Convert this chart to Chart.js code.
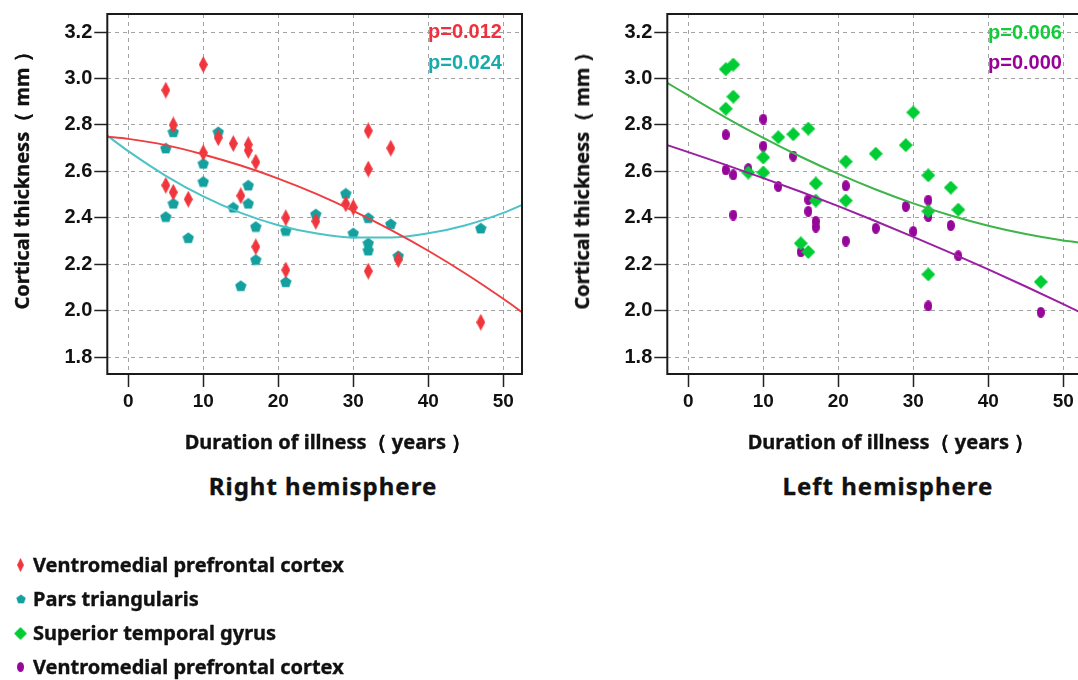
<!DOCTYPE html>
<html lang="en">
<head>
    <meta charset="UTF-8">
    <title>Cortical thickness vs duration of illness</title>
    <script src="https://cdn.jsdelivr.net/npm/chart.js"></script>
    <style>
        body {
            margin: 0;
            width: 1078px;
            height: 680px;
            overflow: hidden;
            position: relative;
            background: #fff;
            font-family: "Noto Sans", sans-serif;
            color: #111;
        }
        canvas.plot { position: absolute; top: 0; }
        #rightHemiChart { left: 0; }
        #leftHemiChart { left: 560px; }
        .txt { position: absolute; white-space: nowrap; font-weight: bold; -webkit-text-stroke: 0.35px #111; }
        .ytitle { font-size: 20px; line-height: 24px; transform: translate(-50%, -50%) rotate(-90deg); }
        .xtitle { font-size: 20px; line-height: 24px; transform: translateX(-50%); }
        .hemi { font-size: 24px; line-height: 30px; letter-spacing: 1px; transform: translateX(-50%); }
        .pval { font-family: "Liberation Sans", Arial, sans-serif; font-size: 20px; line-height: 24px; text-align: right; -webkit-text-stroke: 0; }
        .legend-row { position: absolute; left: 0; height: 24px; width: 400px; }
        .legend-row canvas { position: absolute; }
        .legend-row span { position: absolute; left: 33px; top: 0; font-size: 20px; line-height: 24px; font-weight: bold; white-space: nowrap; -webkit-text-stroke: 0.35px #111; }
    </style>
</head>
<body>
    <canvas id="rightHemiChart" class="plot" width="530" height="464"></canvas>
    <canvas id="leftHemiChart" class="plot" width="530" height="464"></canvas>

    <!-- axis titles -->
    <div class="txt ytitle" style="left:22px; top:176px;">Cortical thickness（ mm ）</div>
    <div class="txt ytitle" style="left:582px; top:176px;">Cortical thickness（ mm ）</div>
    <div class="txt xtitle" style="left:328px; top:430px;">Duration of illness（ years ）</div>
    <div class="txt xtitle" style="left:891px; top:430px;">Duration of illness（ years ）</div>
    <div class="txt hemi" style="left:323px; top:471px;">Right hemisphere</div>
    <div class="txt hemi" style="left:888px; top:471px;">Left hemisphere</div>

    <!-- p values -->
    <div class="txt pval" style="right:576px; top:19px; color:#f0303c;">p=0.012</div>
    <div class="txt pval" style="right:576px; top:50px; color:#17abab;">p=0.024</div>
    <div class="txt pval" style="right:16px; top:20px; color:#12cc3a;">p=0.006</div>
    <div class="txt pval" style="right:16px; top:50px; color:#990099;">p=0.000</div>

    <!-- legend -->
    <div class="legend-row" style="top:553px;"><canvas id="lg0"></canvas><span>Ventromedial prefrontal cortex</span></div>
    <div class="legend-row" style="top:587px;"><canvas id="lg1"></canvas><span>Pars triangularis</span></div>
    <div class="legend-row" style="top:621px;"><canvas id="lg2"></canvas><span>Superior temporal gyrus</span></div>
    <div class="legend-row" style="top:655px;"><canvas id="lg3"></canvas><span>Ventromedial prefrontal cortex</span></div>

    <script>
        // axis ticks
        const xTicks = [0, 10, 20, 30, 40, 50];
        const yTicks = [1.8, 2.0, 2.2, 2.4, 2.6, 2.8, 3.0, 3.2];

        // duration of illness (years), one entry per subject
        const duration = [5, 5, 6, 6, 8, 10, 10, 12, 14, 15, 16, 16, 17, 17, 21, 21, 25, 29, 30, 32, 32, 32, 35, 36, 47];

        // right hemisphere
        const rVmpfc = [2.95, 2.54, 2.80, 2.51, 2.48, 3.06, 2.68, 2.745, 2.72, 2.495, 2.715, 2.69, 2.64, 2.275, 2.40, 2.175, 2.385, 2.46, 2.445, 2.775, 2.61, 2.17, 2.70, 2.22, 1.95];
        const rPars = [2.70, 2.405, 2.77, 2.462, 2.314, 2.634, 2.556, 2.77, 2.445, 2.107, 2.54, 2.462, 2.362, 2.22, 2.345, 2.124, 2.416, 2.505, 2.334, 2.40, 2.291, 2.26, 2.374, 2.236, 2.355];

        // left hemisphere
        const lStg = [3.04, 2.87, 3.06, 2.922, 2.595, 2.66, 2.595, 2.747, 2.76, 2.29, 2.784, 2.253, 2.548, 2.474, 2.642, 2.474, 2.676, 2.713, 2.854, 2.583, 2.428, 2.156, 2.53, 2.435, 2.124];
        const lVmpfc = [2.758, 2.606, 2.585, 2.412, 2.612, 2.825, 2.709, 2.535, 2.666, 2.253, 2.478, 2.428, 2.385, 2.36, 2.538, 2.30, 2.355, 2.449, 2.341, 2.476, 2.405, 2.02, 2.367, 2.236, 1.993];

        // fit curves
        const fitX = [-3, 0, 5, 10, 15, 20, 25, 30, 35, 40, 45, 50, 53];
        const rVmpfcFit = [2.750, 2.740, 2.713, 2.673, 2.625, 2.569, 2.504, 2.430, 2.348, 2.258, 2.159, 2.051, 1.982];
        const rParsFit = [2.759, 2.687, 2.581, 2.492, 2.421, 2.368, 2.333, 2.315, 2.315, 2.333, 2.368, 2.421, 2.462];
        const lStgFit = [2.985, 2.927, 2.832, 2.744, 2.663, 2.589, 2.522, 2.462, 2.410, 2.366, 2.330, 2.302, 2.290];
        const lVmpfcFit = [2.715, 2.683, 2.628, 2.571, 2.512, 2.450, 2.385, 2.318, 2.249, 2.178, 2.104, 2.028, 1.981];

        const colors = {
            red: '#f0363c', redLine: '#ef3e42',
            teal: '#15a0a0', tealLine: '#4cc3c6',
            green: '#00cc33', greenLine: '#3db54a',
            purple: '#96069a', purpleLine: '#9a1fa3'
        };

        // marker shapes drawn onto small canvases
        function diamond(c, w, h, color) {
            c.width = w; c.height = h;
            const g = c.getContext('2d');
            g.fillStyle = color;
            g.beginPath();
            g.moveTo(w / 2, 0); g.lineTo(w, h / 2); g.lineTo(w / 2, h); g.lineTo(0, h / 2);
            g.closePath(); g.fill();
            return c;
        }
        function pentagon(c, size, color) {
            c.width = size; c.height = size;
            const g = c.getContext('2d');
            const r = size / 2;
            g.fillStyle = color;
            g.beginPath();
            for (let i = 0; i < 5; i++) {
                const a = -Math.PI / 2 + i * 2 * Math.PI / 5;
                const px = r + r * Math.cos(a), py = r + 0.5 + r * Math.sin(a);
                i ? g.lineTo(px, py) : g.moveTo(px, py);
            }
            g.closePath(); g.fill();
            return c;
        }
        function ellipse(c, w, h, color) {
            c.width = w; c.height = h;
            const g = c.getContext('2d');
            g.fillStyle = color;
            g.beginPath();
            g.ellipse(w / 2, h / 2, w / 2, h / 2, 0, 0, Math.PI * 2);
            g.fill();
            return c;
        }
        const mk = () => document.createElement('canvas');
        const redMarker = diamond(mk(), 9, 17, colors.red);
        const tealMarker = pentagon(mk(), 12, colors.teal);
        const greenMarker = diamond(mk(), 14, 14, colors.green);
        const purpleMarker = ellipse(mk(), 8, 11, colors.purple);

        function toPoints(xs, ys) {
            return xs.map((x, i) => ({ x: x, y: ys[i] }));
        }

        function scatterSet(ys, marker) {
            return {
                data: toPoints(duration, ys),
                pointStyle: marker,
                pointRadius: 6,
                showLine: false
            };
        }
        function fitSet(ys, color) {
            return {
                data: toPoints(fitX, ys),
                showLine: true,
                borderColor: color,
                borderWidth: 2,
                pointRadius: 0,
                cubicInterpolationMode: 'monotone',
                clip: 0
            };
        }

        // border round the plot area
        const framePlugin = {
            id: 'frame',
            afterDatasetsDraw(chart) {
                const a = chart.chartArea;
                const ctx = chart.ctx;
                ctx.save();
                ctx.strokeStyle = '#1a1a1a';
                ctx.lineWidth = 2;
                ctx.strokeRect(a.left, a.top, a.right - a.left, a.bottom - a.top);
                ctx.restore();
            }
        };

        function scales() {
            const gridBase = { color: '#a3a3a3', lineWidth: 1, drawTicks: true, tickLength: 13, tickColor: '#222', tickWidth: 1.5 };
            return {
                x: {
                    type: 'linear',
                    min: -2.8,
                    max: 52.5,
                    afterBuildTicks: s => { s.ticks = xTicks.map(v => ({ value: v })); },
                    afterFit: s => { s.height = 90; },
                    grid: gridBase,
                    border: { display: false, dash: [4, 4] },
                    ticks: { color: '#111', padding: 3, maxRotation: 0, font: { family: 'Liberation Sans', size: 19, weight: 'bold' } }
                },
                y: {
                    type: 'linear',
                    min: 1.727,
                    max: 3.278,
                    afterBuildTicks: s => { s.ticks = yTicks.map(v => ({ value: v })); },
                    afterFit: s => { s.width = 107.3; },
                    grid: gridBase,
                    border: { display: false, dash: [4, 4] },
                    ticks: { color: '#111', padding: 2, font: { family: 'Liberation Sans', size: 20, weight: 'bold' }, callback: v => v.toFixed(1) }
                }
            };
        }

        function makeChart(id, datasets) {
            return new Chart(document.getElementById(id), {
                type: 'scatter',
                data: { datasets: datasets },
                options: {
                    responsive: false,
                    animation: false,
                    layout: { padding: { top: 12, right: 8, left: 0, bottom: 0 } },
                    plugins: { legend: { display: false }, tooltip: { enabled: false } },
                    scales: scales()
                },
                plugins: [framePlugin]
            });
        }

        makeChart('rightHemiChart', [
            fitSet(rVmpfcFit, colors.redLine),
            fitSet(rParsFit, colors.tealLine),
            scatterSet(rVmpfc, redMarker),
            scatterSet(rPars, tealMarker)
        ]);

        makeChart('leftHemiChart', [
            fitSet(lStgFit, colors.greenLine),
            fitSet(lVmpfcFit, colors.purpleLine),
            scatterSet(lStg, greenMarker),
            scatterSet(lVmpfc, purpleMarker)
        ]);

        // legend markers
        function placeLegend(id, src, w, h) {
            const c = document.getElementById(id);
            c.width = w; c.height = h;
            c.style.left = (20.5 - w / 2) + 'px';
            c.style.top = (12 - h / 2) + 'px';
            c.getContext('2d').drawImage(src, 0, 0, w, h);
        }
        placeLegend('lg0', redMarker, 7, 14);
        placeLegend('lg1', tealMarker, 10, 10);
        placeLegend('lg2', greenMarker, 13, 13);
        placeLegend('lg3', purpleMarker, 7, 10);
    </script>
</body>
</html>
